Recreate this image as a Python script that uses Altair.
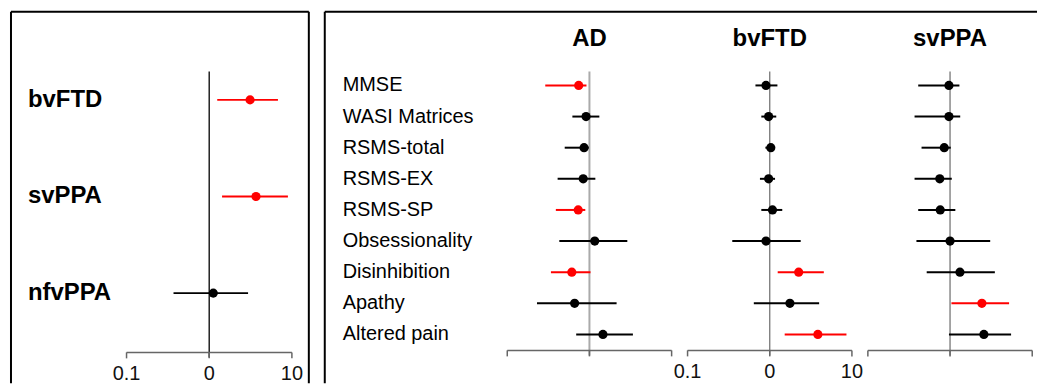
import altair as alt
import pandas as pd

# ---------------- data ----------------
left_groups = ["bvFTD", "svPPA", "nfvPPA"]
left_est = [3.12, 3.68, 1.12]
left_lo = [1.25, 1.43, 0.37]
left_hi = [6.78, 8.95, 2.95]
left_sig = ["sig", "sig", "ns"]

measures = ["MMSE", "WASI Matrices", "RSMS-total", "RSMS-EX", "RSMS-SP",
            "Obsessionality", "Disinhibition", "Apathy", "Altered pain"]
facet_names = ["AD", "bvFTD", "svPPA"]

ad_est = [0.74, 0.91, 0.86, 0.84, 0.73, 1.16, 0.61, 0.66, 1.46]
ad_lo = [0.29, 0.62, 0.50, 0.41, 0.39, 0.43, 0.34, 0.23, 0.69]
ad_hi = [0.92, 1.32, 0.98, 1.18, 0.89, 2.89, 1.03, 2.14, 3.38]
ad_sig = ["sig", "ns", "ns", "ns", "sig", "ns", "sig", "ns", "ns"]

bv_est = [0.90, 0.97, 1.03, 0.97, 1.08, 0.90, 2.25, 1.76, 3.85]
bv_lo = [0.67, 0.79, 0.885, 0.76, 0.79, 0.35, 1.25, 0.64, 1.52]
bv_hi = [1.24, 1.20, 1.15, 1.16, 1.42, 2.38, 4.55, 3.99, 8.58]
bv_sig = ["ns", "ns", "ns", "ns", "ns", "ns", "sig", "ns", "sig"]

sv_est = [0.97, 0.97, 0.85, 0.75, 0.76, 1.00, 1.32, 2.44, 2.58]
sv_lo = [0.41, 0.37, 0.45, 0.37, 0.41, 0.39, 0.52, 1.04, 0.97]
sv_hi = [1.30, 1.33, 1.02, 1.05, 1.16, 3.08, 3.51, 5.23, 5.53]
sv_sig = ["ns", "ns", "ns", "ns", "ns", "ns", "ns", "sig", "ns"]

tick_values = [0.1, 1, 10]
tick_labels = ["0.1", "0", "10"]

# ---------------- layout ----------------
FONT = "Liberation Sans"
PANEL_H = 373
L_W, R_W = 299, 715
SPACING = 14
L_ZERO, L_DEC = 199, 83.0
R_ZEROS = [265.7, 446.7, 627.7]
R_DEC = 82.5


def log_domain(zero_px, dec_px, width):
    return [10 ** (-zero_px / dec_px), 10 ** ((width - zero_px) / dec_px)]


def row_domain(first_px, step_px, height):
    return [1 - first_px / step_px, 1 + (height - first_px) / step_px]


cscale = alt.Scale(domain=["sig", "ns"], range=["#ff0000", "#000000"])
ticks_df = pd.DataFrame({"v": tick_values, "lab": tick_labels})
span_df = pd.DataFrame({"a": [tick_values[0]], "b": [tick_values[-1]]})


def frame(width, right_edge):
    """Panel border: top, left and (optionally) right edges."""
    fb = alt.Chart(span_df).mark_rule(color="#000000", strokeWidth=2)
    parts = [
        fb.encode(x=alt.value(0), x2=alt.value(width), y=alt.value(0)),
        fb.encode(x=alt.value(0), y=alt.value(0), y2=alt.value(PANEL_H)),
    ]
    if right_edge:
        parts.append(fb.encode(x=alt.value(width), y=alt.value(0),
                               y2=alt.value(PANEL_H)))
    return parts


def forest(df, xscale, yscale, ref_color, ref_w, ref_y, axis_y,
           show_labels, title=None):
    X = lambda f: alt.X(f, scale=xscale, axis=None)
    Y = alt.Y("row:Q", scale=yscale, axis=None)
    C = alt.Color("sig:N", scale=cscale, legend=None)
    tb = alt.Chart(ticks_df)
    layers = []
    layers.append(tb.transform_filter("datum.v == 1").mark_rule(
        color=ref_color, strokeWidth=ref_w).encode(
        x=X("v:Q"), y=alt.value(ref_y[0]), y2=alt.value(ref_y[1])))
    base = alt.Chart(df)
    layers.append(base.mark_rule(strokeWidth=2).encode(
        x=X("lo:Q"), x2="hi:Q", y=Y, color=C))
    layers.append(base.mark_circle(size=85, opacity=1).encode(
        x=X("est:Q"), y=Y, color=C))
    layers.append(alt.Chart(span_df).mark_rule(
        color="#666666", strokeWidth=1.5).encode(
        x=X("a:Q"), x2="b:Q", y=alt.value(axis_y)))
    layers.append(tb.mark_rule(color="#666666", strokeWidth=1.5).encode(
        x=X("v:Q"), y=alt.value(axis_y), y2=alt.value(axis_y + 6)))
    if show_labels:
        layers.append(tb.mark_text(font=FONT, fontSize=20, color="#111111",
                                   baseline="middle").encode(
            x=X("v:Q"), y=alt.value(axis_y + 22), text="lab:N"))
    if title:
        layers.append(tb.transform_filter("datum.v == 1").mark_text(
            font=FONT, fontSize=24, fontWeight="bold", color="#000000",
            baseline="middle").encode(
            x=X("v:Q"), y=alt.value(27), text=alt.value(title)))
    return alt.layer(*layers)


# ---------------- left panel ----------------
left_df = pd.DataFrame({"label": left_groups, "row": [1, 2, 3],
                        "est": left_est, "lo": left_lo, "hi": left_hi,
                        "sig": left_sig})
l_x = alt.Scale(type="log", domain=log_domain(L_ZERO, L_DEC, L_W),
                nice=False, zero=False)
l_y = alt.Scale(domain=row_domain(88.5, 97, PANEL_H), reverse=True,
                nice=False, zero=False)
left_labels = alt.Chart(left_df).mark_text(
    font=FONT, fontSize=24, fontWeight="bold", align="left",
    baseline="middle", color="#000000").encode(
    x=alt.value(17), y=alt.Y("row:Q", scale=l_y, axis=None), text="label:N")
left = alt.layer(
    *frame(L_W, True),
    left_labels,
    forest(left_df, l_x, l_y, "#222222", 1.5, (60, 347), 342, True)
).properties(width=L_W, height=PANEL_H)

# ---------------- right panel ----------------
r_y = alt.Scale(domain=row_domain(74, 31.25, PANEL_H), reverse=True,
                nice=False, zero=False)
rows = list(range(1, len(measures) + 1))
facet_data = [
    (ad_est, ad_lo, ad_hi, ad_sig),
    (bv_est, bv_lo, bv_hi, bv_sig),
    (sv_est, sv_lo, sv_hi, sv_sig),
]
ref_styles = [("#aaaaaa", 2), ("#777777", 1.3), ("#777777", 1.3)]
facet_layers = []
for i, name in enumerate(facet_names):
    est, lo, hi, sig = facet_data[i]
    df = pd.DataFrame({"measure": measures, "row": rows, "est": est,
                       "lo": lo, "hi": hi, "sig": sig})
    xs = alt.Scale(type="log", domain=log_domain(R_ZEROS[i], R_DEC, R_W),
                   nice=False, zero=False)
    facet_layers.append(forest(df, xs, r_y, ref_styles[i][0],
                               ref_styles[i][1], (60, 345), 340,
                               name == "bvFTD", title=name))

label_df = pd.DataFrame({"measure": measures, "row": rows})
right_labels = alt.Chart(label_df).mark_text(
    font=FONT, fontSize=20, align="left", baseline="middle",
    color="#000000").encode(
    x=alt.value(18), y=alt.Y("row:Q", scale=r_y, axis=None),
    text="measure:N")
right = alt.layer(*frame(R_W, False), right_labels, *facet_layers).resolve_scale(
    x="independent").properties(width=R_W, height=PANEL_H)

chart = alt.hconcat(left, right, spacing=SPACING).resolve_scale(
    x="independent", y="independent").properties(
    padding={"left": 2, "top": 2, "right": 0, "bottom": 0},
    background="white").configure_view(stroke=None)

chart.save("out.html", embed_options={"renderer": "svg", "actions": False})
